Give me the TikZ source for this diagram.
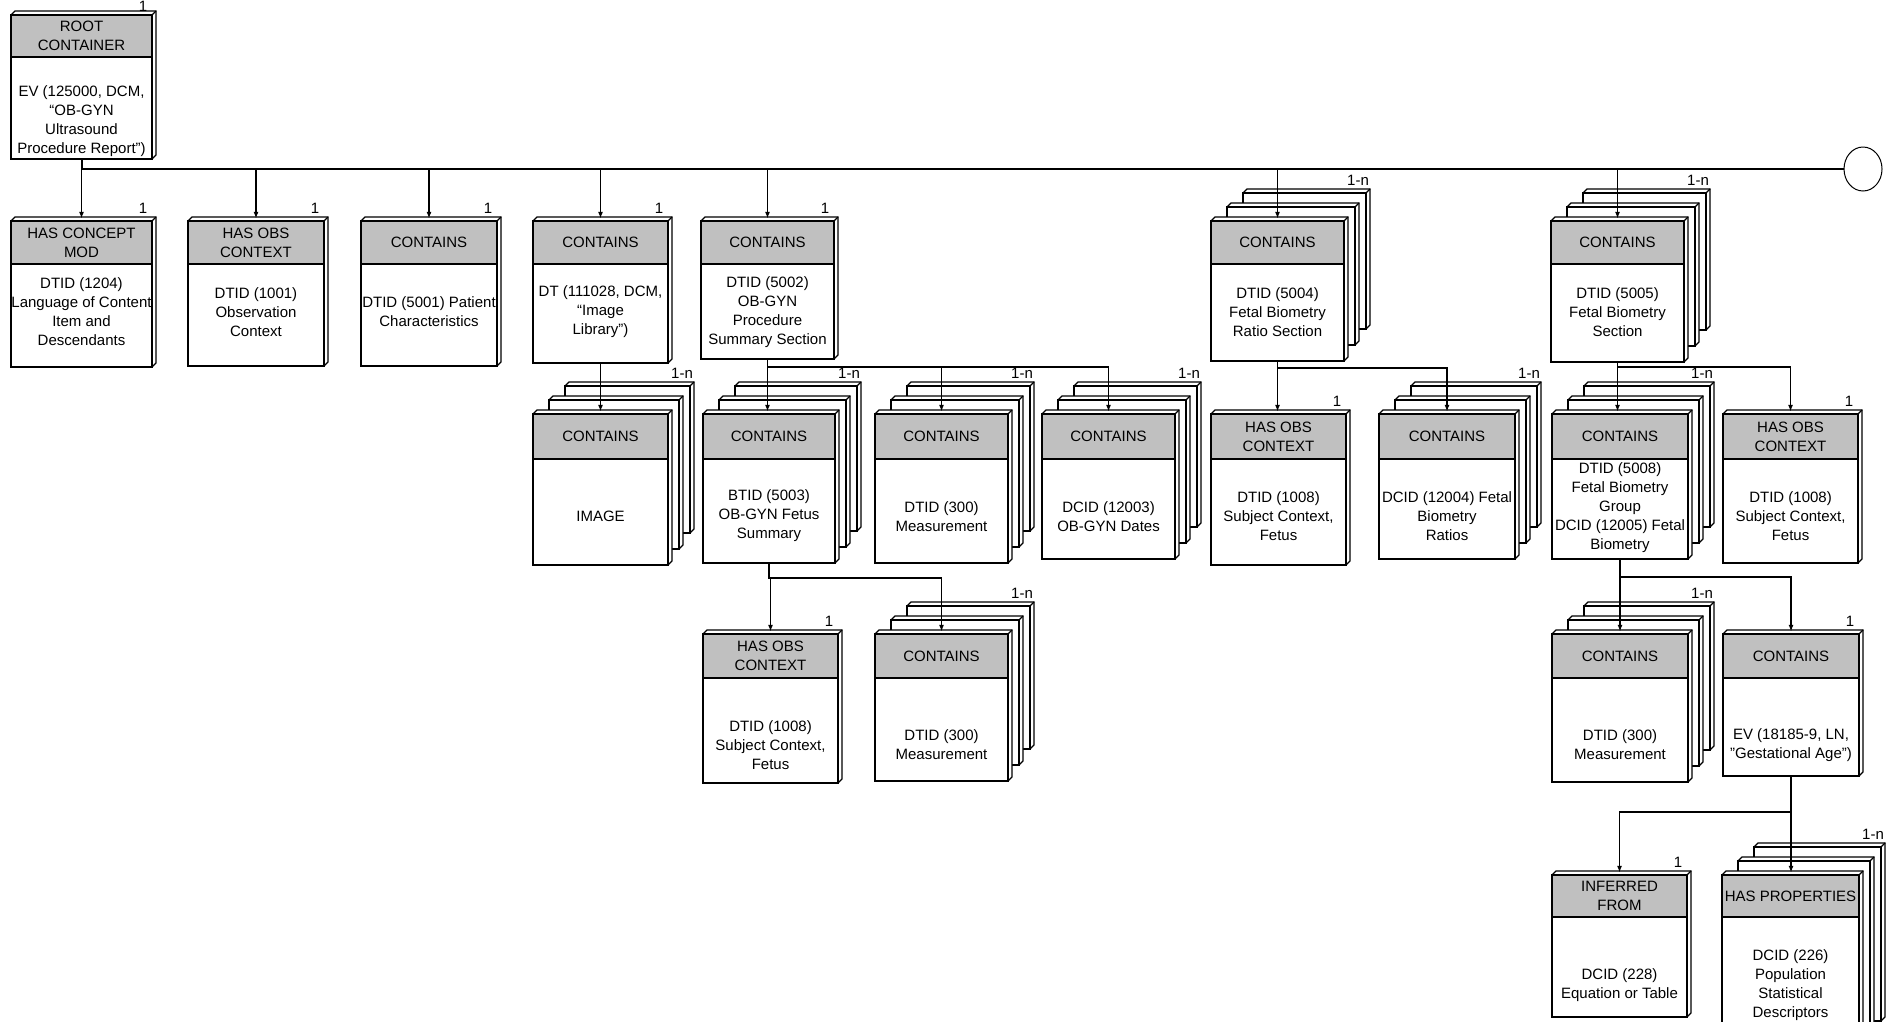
\documentclass[tikz,border=0pt]{standalone}
\usepackage{fontspec}
\setmainfont{Liberation Sans}
\usetikzlibrary{shapes.geometric,arrows.meta}
\definecolor{hdrgray}{RGB}{192,192,192}
\tikzset{
face/.style={draw, fill=white, line width=0.8pt},
backbox/.style={draw, fill=white, line width=1.1pt},
frontbox/.style={draw, fill=white, line width=1.2pt, inner sep=0pt, outer sep=0pt},
hdr/.style={draw, fill=hdrgray, line width=1.3pt, inner sep=0pt, align=center},
bodytext/.style={inner sep=0pt, align=center},
mult/.style={inner sep=0pt},
arr/.style={-{Latex[length=4pt,width=3pt]}, line width=0.7pt, shorten >=1.5pt},
busline/.style={line width=1.2pt}
}
% 3d edge of a box: x1 y1 x2 y2
\newcommand{\boxface}[4]{%
  \draw[face] (#1,#2) -- ++(4,-4) -- (#3+4,#2-4) -- (#3+4,#4-4) -- (#3,#4) -- cycle;
  \draw[face] (#3,#2) -- ++(4,-4);
}
% name, x1, y1, x2, y2, header bottom, text y, header, text
\newcommand{\relbox}[9]{%
  \boxface{#2}{#3}{#4}{#5}
  \node[frontbox, minimum width={(#4-#2)*0.6pt}, minimum height={(#5-#3)*0.6pt}]
    (#1) at ({(#2+#4)/2},{(#3+#5)/2}) {};
  \node[hdr, minimum width={(#4-#2)*0.6pt}, minimum height={(#6-#3)*0.6pt}]
    (#1-h) at ({(#2+#4)/2},{(#3+#6)/2}) {#8};
  \node[bodytext] (#1-t) at ({(#2+#4)/2},#7) {#9};
}
% same, with two copies behind (1-n)
\newcommand{\relstack}[9]{%
  \boxface{#2+32}{#3-28}{#4+22}{#5-32}
  \draw[backbox] (#2+32,#3-28) rectangle (#4+22,#5-32);
  \boxface{#2+16}{#3-14}{#4+11}{#5-16}
  \draw[backbox] (#2+16,#3-14) rectangle (#4+11,#5-16);
  \relbox{#1}{#2}{#3}{#4}{#5}{#6}{#7}{#8}{#9}
}

\begin{document}
\begin{tikzpicture}[x=0.6pt, y=-0.6pt, font=\fontsize{9}{11.4}\selectfont]
\useasboundingbox (0,0) rectangle (1890,1021);

% root
\relbox{root}{11}{15}{152}{159}{57}{121}{ROOT\\CONTAINER}{EV (125000, DCM,\\“OB-GYN\\Ultrasound\\Procedure Report”)}
\node[mult] (root-m) at ([shift={(-9,-9)}]root.north east) {1};

% first level
\relbox{mod}{11}{221}{152}{367}{264}{312}{HAS CONCEPT\\MOD}{DTID (1204)\\Language of Content\\Item and\\Descendants}
\relbox{obs}{188}{221}{324}{366}{264}{312}{HAS OBS\\CONTEXT}{DTID (1001)\\Observation\\Context}
\relbox{pat}{361}{221}{497}{366}{264}{312}{CONTAINS}{DTID (5001) Patient\\Characteristics}
\relbox{img}{533}{221}{668}{363}{264}{312}{CONTAINS}{DT (111028, DCM,\\“Image\\Library”)}
\relbox{sum}{701}{221}{834}{359}{264}{312}{CONTAINS}{DTID (5002)\\OB-GYN\\Procedure\\Summary Section}
\relstack{ratio}{1211}{221}{1344}{361}{264}{312}{CONTAINS}{DTID (5004)\\Fetal Biometry\\Ratio Section}
\relstack{bio}{1551}{221}{1684}{362}{264}{312}{CONTAINS}{DTID (5005)\\Fetal Biometry\\Section}

% second level
\relstack{imgc}{533}{414}{668}{565}{459}{516}{CONTAINS}{IMAGE}
\relstack{fetus}{703}{414}{835}{563}{459}{516}{CONTAINS}{BTID (5003)\\OB-GYN Fetus\\Summary}
\relstack{meas1}{875}{414}{1008}{563}{459}{517}{CONTAINS}{DTID (300)\\Measurement}
\relstack{dates}{1042}{414}{1175}{559}{459}{517}{CONTAINS}{DCID (12003)\\OB-GYN Dates}
\relbox{subj1}{1211}{414}{1346}{565}{459}{516}{HAS OBS\\CONTEXT}{DTID (1008)\\Subject Context,\\Fetus}
\relstack{ratios}{1379}{414}{1515}{559}{459}{516}{CONTAINS}{DCID (12004) Fetal\\Biometry\\Ratios}
\relstack{grp}{1552}{414}{1688}{559}{459}{508}{CONTAINS}{DTID (5008)\\Fetal Biometry\\Group\\DCID (12005) Fetal\\Biometry}
\relbox{subj2}{1723}{414}{1858}{563}{459}{516}{HAS OBS\\CONTEXT}{DTID (1008)\\Subject Context,\\Fetus}

% third level
\relbox{subj3}{703}{634}{838}{783}{678}{745}{HAS OBS\\CONTEXT}{DTID (1008)\\Subject Context,\\Fetus}
\relstack{meas2}{875}{634}{1008}{781}{678}{745}{CONTAINS}{DTID (300)\\Measurement}
\relstack{meas3}{1552}{634}{1688}{782}{678}{745}{CONTAINS}{DTID (300)\\Measurement}
\relbox{ga}{1723}{634}{1859}{776}{678}{745}{CONTAINS}{EV (18185-9, LN,\\"Gestational Age")}

% fourth level
\relbox{inf}{1552}{875}{1687}{1017}{917}{985}{INFERRED\\FROM}{DCID (228)\\Equation or Table}
\relstack{prop}{1722}{875}{1859}{1053}{917}{985}{HAS PROPERTIES}{DCID (226)\\Population\\Statistical\\Descriptors}

% multiplicities
\node[mult] (mod-m) at ([shift={(-9,-13)}]mod.north east) {1};
\node[mult] (obs-m) at ([shift={(-9,-13)}]obs.north east) {1};
\node[mult] (pat-m) at ([shift={(-9,-13)}]pat.north east) {1};
\node[mult] (img-m) at ([shift={(-9,-13)}]img.north east) {1};
\node[mult] (sum-m) at ([shift={(-9,-13)}]sum.north east) {1};
\node[mult] (ratio-m) at ([shift={(14,-41)}]ratio.north east) {1-n};
\node[mult] (bio-m) at ([shift={(14,-41)}]bio.north east) {1-n};
\node[mult] (imgc-m) at ([shift={(14,-41)}]imgc.north east) {1-n};
\node[mult] (fetus-m) at ([shift={(14,-41)}]fetus.north east) {1-n};
\node[mult] (meas1-m) at ([shift={(14,-41)}]meas1.north east) {1-n};
\node[mult] (dates-m) at ([shift={(14,-41)}]dates.north east) {1-n};
\node[mult] (subj1-m) at ([shift={(-9,-13)}]subj1.north east) {1};
\node[mult] (ratios-m) at ([shift={(14,-41)}]ratios.north east) {1-n};
\node[mult] (grp-m) at ([shift={(14,-41)}]grp.north east) {1-n};
\node[mult] (subj2-m) at ([shift={(-9,-13)}]subj2.north east) {1};
\node[mult] (subj3-m) at ([shift={(-9,-13)}]subj3.north east) {1};
\node[mult] (meas2-m) at ([shift={(14,-41)}]meas2.north east) {1-n};
\node[mult] (meas3-m) at ([shift={(14,-41)}]meas3.north east) {1-n};
\node[mult] (ga-m) at ([shift={(-9,-13)}]ga.north east) {1};
\node[mult] (inf-m) at ([shift={(-9,-13)}]inf.north east) {1};
\node[mult] (prop-m) at ([shift={(14,-41)}]prop.north east) {1-n};

% bus
\node[draw, ellipse, line width=0.6pt, inner sep=0pt, minimum width=38*0.6pt, minimum height=44*0.6pt] (end) at (1863,169) {};
\draw[busline] (root.south) |- (end.west);
\draw[arr] (mod.north |- end.west) -- (mod.north);
\draw[arr] (obs.north |- end.west) -- (obs.north);
\draw[arr] (pat.north |- end.west) -- (pat.north);
\draw[arr] (img.north |- end.west) -- (img.north);
\draw[arr] (sum.north |- end.west) -- (sum.north);
\draw[arr] (ratio.north |- end.west) -- (ratio.north);
\draw[arr] (bio.north |- end.west) -- (bio.north);

% connectors
\draw[arr] (img.south) -- (img.south |- imgc.north);
\draw[arr] (sum.south) -- (sum.south |- fetus.north);
\draw[arr] (sum.south) -- ++(0,8) -| (meas1.north);
\draw[arr] (sum.south) -- ++(0,8) -| (dates.north);
\draw[arr] (ratio.south) -- (ratio.south |- subj1.north);
\draw[arr] (ratio.south) -- ++(0,7) -| (ratios.north);
\draw[arr] (bio.south) -- (bio.south |- grp.north);
\draw[arr] (bio.south) -- ++(0,5) -| (subj2.north);
\draw[arr] (fetus.south) -- ++(0,15) -| (subj3.north);
\draw[arr] (fetus.south) -- ++(0,15) -| (meas2.north);
\draw[arr] (grp.south) -- (grp.south |- meas3.north);
\draw[arr] (grp.south) -- ++(0,18) -| (ga.north);
\draw[arr] (ga.south) -- (ga.south |- prop.north);
\draw[arr] (ga.south) -- ++(0,36) -| (inf.north);
\end{tikzpicture}
\end{document}
